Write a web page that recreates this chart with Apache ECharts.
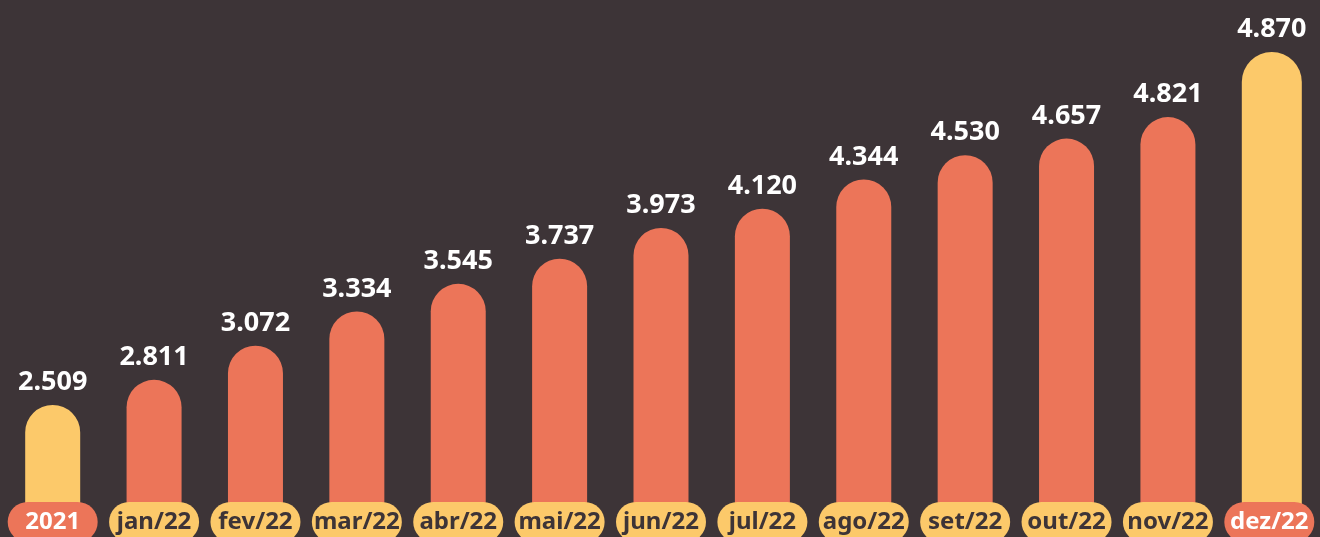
<!DOCTYPE html>
<html>
<head>
<meta charset="utf-8">
<script src="https://cdn.jsdelivr.net/npm/echarts@6/dist/echarts.min.js"></script>
<style>
html, body { margin: 0; padding: 0; background: #3d3437; overflow: hidden; }
/* a bit taller than the window: the label pills run off the bottom edge */
#chart { width: 1320px; height: 545px; }
</style>
</head>
<body>
<div id="chart"></div>
<script>
// categories on the x axis
const categories = ['2021', 'jan/22', 'fev/22', 'mar/22', 'abr/22', 'mai/22', 'jun/22',
    'jul/22', 'ago/22', 'set/22', 'out/22', 'nov/22', 'dez/22'];
// values shown above each bar (thousands)
const values = [2.509, 2.811, 3.072, 3.334, 3.545, 3.737, 3.973, 4.120, 4.344, 4.530, 4.657, 4.821, 4.870];
// the two highlighted columns (yellow bar, orange pill)
const highlight = ['2021', 'dez/22'];

const ORANGE = '#ec7559';
const YELLOW = '#fcc96a';
const DARK = '#3d3437';

function pick(keep) {
    return categories.map((c, i) => keep(c) ? values[i] : null);
}

const valueLabel = {
    show: true,
    position: 'top',
    distance: 9,
    color: '#ffffff',
    fontFamily: 'Noto Sans',
    fontSize: 27,
    fontWeight: 'bold',
    formatter: p => p.value.toFixed(3)
};

const pill = {
    width: 90,
    height: 40,
    lineHeight: 40,
    borderRadius: 20,
    align: 'center',
    fontFamily: 'Noto Sans',
    fontSize: 24,
    fontWeight: 'bold'
};

const myChart = echarts.init(document.getElementById('chart'));
const option = {
    backgroundColor: DARK,
    animation: false,
    grid: { left: 2, right: -4, top: 0, bottom: 3 },
    xAxis: {
        type: 'category',
        data: categories,
        z: 10,
        axisLine: { show: false },
        axisTick: { show: false },
        splitLine: { show: false },
        axisLabel: {
            inside: true,
            margin: 0,
            interval: 0,
            formatter: v => highlight.includes(v) ? '{o|' + v + '}' : '{y|' + v + '}',
            rich: {
                o: Object.assign({ backgroundColor: ORANGE, color: '#ffffff' }, pill),
                y: Object.assign({ backgroundColor: YELLOW, color: DARK }, pill)
            }
        }
    },
    // the picture is not drawn to one scale: monthly bars and highlighted bars use their own
    yAxis: [
        { type: 'value', show: false, min: 1.570, max: 5.717, splitLine: { show: false } },
        { type: 'value', show: false, min: 1.592, max: 5.217, splitLine: { show: false } }
    ],
    series: [
        {
            name: 'dez',
            type: 'bar',
            yAxisIndex: 1,
            barWidth: 60,
            barGap: '-100%',
            data: pick(c => c === 'dez/22'),
            itemStyle: { color: YELLOW, borderRadius: [30, 30, 0, 0] },
            label: valueLabel
        },
        {
            name: '2021',
            type: 'bar',
            yAxisIndex: 1,
            barWidth: 55,
            barGap: '-100%',
            data: pick(c => c === '2021'),
            itemStyle: { color: YELLOW, borderRadius: [27.5, 27.5, 0, 0] },
            label: valueLabel
        },
        {
            name: 'meses',
            type: 'bar',
            yAxisIndex: 0,
            barWidth: 55,
            barGap: '-100%',
            data: pick(c => !highlight.includes(c)),
            itemStyle: { color: ORANGE, borderRadius: [27.5, 27.5, 0, 0] },
            label: valueLabel
        }
    ]
};
myChart.setOption(option);
</script>
</body>
</html>
